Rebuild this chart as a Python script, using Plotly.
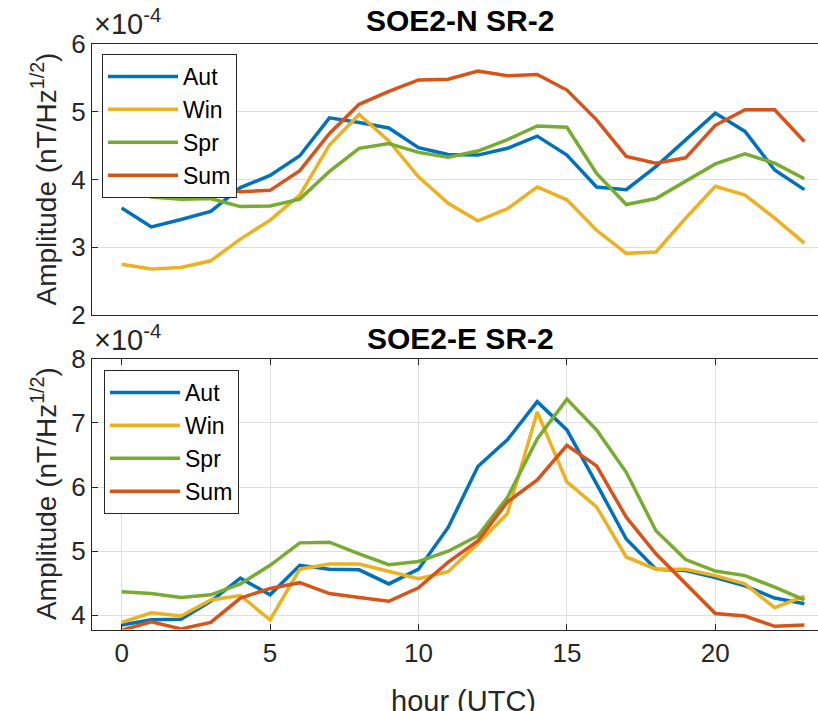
import plotly.graph_objects as go

hours = list(range(24))
seasons = ["Aut", "Win", "Spr", "Sum"]
colors = ["#0072BD", "#EDB120", "#77AC30", "#D95319"]

# Top panel: SOE2-N SR-2 (x 1e-4)
n_aut = [3.58, 3.30, 3.41, 3.53, 3.88, 4.06, 4.35, 4.91, 4.84, 4.76, 4.47, 4.37,
         4.36, 4.46, 4.64, 4.36, 3.89, 3.85, 4.19, 4.58, 4.98, 4.71, 4.14, 3.85]
n_win = [2.75, 2.68, 2.70, 2.80, 3.12, 3.40, 3.77, 4.51, 4.96, 4.57, 4.04, 3.65,
         3.39, 3.57, 3.89, 3.70, 3.25, 2.91, 2.93, 3.43, 3.90, 3.77, 3.43, 3.06]
n_spr = [3.87, 3.74, 3.71, 3.72, 3.60, 3.61, 3.71, 4.12, 4.46, 4.53, 4.40, 4.33,
         4.42, 4.59, 4.79, 4.77, 4.09, 3.63, 3.72, 3.97, 4.23, 4.38, 4.24, 4.01]
n_sum = [3.98, 3.93, 3.88, 3.89, 3.82, 3.84, 4.13, 4.68, 5.11, 5.30, 5.47, 5.48,
         5.60, 5.53, 5.55, 5.32, 4.88, 4.34, 4.24, 4.32, 4.80, 5.03, 5.03, 4.56]

# Bottom panel: SOE2-E SR-2 (x 1e-4)
e_aut = [3.85, 3.93, 3.94, 4.22, 4.58, 4.32, 4.78, 4.72, 4.71, 4.49, 4.72, 5.37,
         6.32, 6.74, 7.33, 6.89, 6.05, 5.19, 4.72, 4.70, 4.59, 4.46, 4.27, 4.18]
e_win = [3.89, 4.04, 3.99, 4.24, 4.31, 3.93, 4.72, 4.80, 4.80, 4.68, 4.57, 4.68,
         5.12, 5.59, 7.17, 6.08, 5.69, 4.91, 4.72, 4.72, 4.62, 4.49, 4.12, 4.30]
e_spr = [4.37, 4.34, 4.28, 4.32, 4.49, 4.78, 5.13, 5.14, 4.96, 4.79, 4.84, 5.00,
         5.24, 5.84, 6.75, 7.37, 6.89, 6.23, 5.32, 4.87, 4.69, 4.62, 4.44, 4.24]
e_sum = [3.77, 3.90, 3.79, 3.89, 4.27, 4.42, 4.51, 4.34, 4.28, 4.22, 4.43, 4.83,
         5.16, 5.77, 6.11, 6.65, 6.33, 5.53, 4.96, 4.49, 4.03, 3.99, 3.83, 3.85]

top_series = [n_aut, n_win, n_spr, n_sum]
bot_series = [e_aut, e_win, e_spr, e_sum]

FONT = "Liberation Sans, Arial, Helvetica, sans-serif"
AX = "#262626"
GRID = "#dfdfdf"
W, H = 818, 711

fig = go.Figure()
for name, col, ys in zip(seasons, colors, top_series):
    fig.add_trace(go.Scatter(x=hours, y=ys, mode="lines", name=name,
                             line=dict(color=col, width=3.5),
                             xaxis="x", yaxis="y", legend="legend"))
for name, col, ys in zip(seasons, colors, bot_series):
    fig.add_trace(go.Scatter(x=hours, y=ys, mode="lines", name=name,
                             line=dict(color=col, width=3.5),
                             xaxis="x2", yaxis="y2", legend="legend2"))

xdom = [92 / W, 1.0]
top_dom = [1 - 315 / H, 1 - 44 / H]
bot_dom = [1 - 629.5 / H, 1 - 358.7 / H]

common_y = dict(ticks="inside", ticklen=6, tickcolor=AX, showline=True, linecolor=AX,
                linewidth=1, showgrid=True, gridcolor=GRID, zeroline=False,
                automargin=False,
                tickfont=dict(size=26, color=AX, family=FONT))

fig.update_layout(
    width=W, height=H,
    margin=dict(l=0, r=0, t=0, b=0, autoexpand=False),
    paper_bgcolor="white", plot_bgcolor="white",
    font=dict(family=FONT, color=AX),
    xaxis=dict(domain=xdom, range=[-1, 23.46], anchor="y", showticklabels=False,
               ticks="", showgrid=False, showline=True, linecolor=AX, mirror=True,
               zeroline=False, automargin=False),
    yaxis=dict(domain=top_dom, range=[2, 6], tickvals=[2, 3, 4, 5, 6], anchor="x",
               **common_y),
    xaxis2=dict(domain=xdom, range=[-1, 23.46], anchor="y2", tickvals=[0, 5, 10, 15, 20],
                ticks="inside", ticklen=6, tickcolor=AX, showline=True, linecolor=AX,
                mirror="ticks", showgrid=True, gridcolor=GRID, zeroline=False,
                automargin=False,
                tickfont=dict(size=26, color=AX, family=FONT)),
    yaxis2=dict(domain=bot_dom, range=[3.78, 8], tickvals=[4, 5, 6, 7, 8], anchor="x2",
                **common_y),
    legend=dict(x=102 / W, y=1 - 54 / H, xanchor="left", yanchor="top",
                bgcolor="white", bordercolor=AX, borderwidth=1,
                font=dict(size=23, color="black", family=FONT), itemwidth=70),
    legend2=dict(x=104 / W, y=1 - 370 / H, xanchor="left", yanchor="top",
                 bgcolor="white", bordercolor=AX, borderwidth=1,
                 font=dict(size=23, color="black", family=FONT), itemwidth=70),
    showlegend=True,
)

ann = []
for ybot in (42, 358):
    ann.append(dict(text="×10<sup>-4</sup>", xref="paper", yref="paper",
                    x=92 / W, y=1 - ybot / H, xanchor="left", yanchor="bottom",
                    showarrow=False, font=dict(size=29, color=AX, family=FONT)))
for txt, yc in (("<b>SOE2-N SR-2</b>", 20), ("<b>SOE2-E SR-2</b>", 338)):
    ann.append(dict(text=txt, xref="paper", yref="paper", x=460 / W, y=1 - yc / H,
                    xanchor="center", yanchor="middle", showarrow=False,
                    font=dict(size=30, color="black", family=FONT)))
for yc in ((44 + 315) / 2, (358.7 + 629.5) / 2):
    ann.append(dict(text="Amplitude (nT/Hz<sup>1/2</sup>)", xref="paper", yref="paper",
                    x=44 / W, y=1 - yc / H, xanchor="center", yanchor="middle",
                    textangle=-90, showarrow=False,
                    font=dict(size=28, color=AX, family=FONT)))
ann.append(dict(text="hour (UTC)", xref="paper", yref="paper", x=463 / W, y=1 - 701 / H,
                xanchor="center", yanchor="middle", showarrow=False,
                font=dict(size=29, color=AX, family=FONT)))
fig.update_layout(annotations=ann)

fig.write_html("out.html", config={"displayModeBar": False},
               post_script="document.body.style.margin='0';document.body.style.overflow='hidden';")
